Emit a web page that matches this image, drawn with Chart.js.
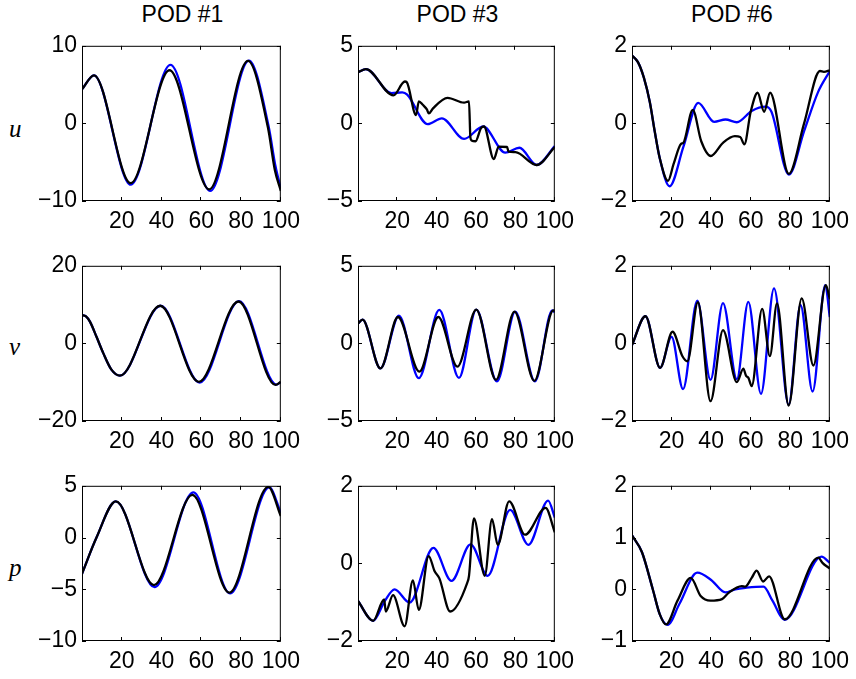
<!DOCTYPE html>
<html>
<head>
<meta charset="utf-8">
<script src="https://cdn.jsdelivr.net/npm/chart.js@4.4.0/dist/chart.umd.min.js"></script>
<style>
  body { margin: 0; background: #fff; width: 856px; height: 679px; position: relative; overflow: hidden; }
  canvas { position: absolute; }
  .title { position: absolute; font: 23px "Liberation Sans", Arial, sans-serif; text-align: center; line-height: 1; color: #000; }
  .var { position: absolute; font: italic 25px "Liberation Serif", "Times New Roman", serif; line-height: 1; color: #000; }
</style>
</head>
<body>
<script>
// Column titles and row variables
const podTitles = ['POD #1', 'POD #3', 'POD #6'];
const rowVars = ['u', 'v', 'p'];
const xTicks = [20, 40, 60, 80, 100];

// y tick labels, per panel (row u, v, p; column POD #1, #3, #6)
const uTicks1 = [-10, 0, 10], uTicks3 = [-5, 0, 5], uTicks6 = [-2, 0, 2];
const vTicks1 = [-20, 0, 20], vTicks3 = [-5, 0, 5], vTicks6 = [-2, 0, 2];
const pTicks1 = [-10, -5, 0, 5], pTicks3 = [-2, 0, 2], pTicks6 = [-1, 0, 1, 2];

// u, POD #1
const u1BlueX = [0, 6, 24.5, 44.5, 64.5, 84, 93.8, 97.3, 100];
const u1BlueY = [4.4, 6.2, -7.9, 7.55, -8.7, 8.1, -0.3, -5.5, -8.4];
const u1BlackX = [0, 6, 24.5, 44, 64, 83.5, 93.5, 97, 100];
const u1BlackY = [4.4, 6.2, -7.7, 6.85, -8.5, 8.05, -0.5, -6, -8.7];

// u, POD #3
const u3BlueX = [0, 4, 17, 22.5, 25, 35.4, 42.6, 53.9, 63.6, 74.8, 82, 90.8, 100];
const u3BlueY = [3.3, 3.5, 1.95, 2.0, 1.85, -0.05, 0.33, -1.0, -0.2, -1.88, -1.57, -2.68, -1.46];
const u3BlackX = [0, 4, 18, 23.8, 24.8, 29.5, 30.9, 32.9, 35, 36, 38, 45.5, 53.9, 56.4, 57.1, 57.7, 59.7, 62.5, 64, 69, 71.5, 75.7, 76.5, 80, 90.8, 100];
const u3BlackY = [3.3, 3.5, 1.8, 2.7, 2.65, 0.54, 1.42, 1.2, 0.9, 0.64, 0.95, 1.65, 1.34, 1.42, -0.9, -1.1, -1.15, -0.3, -0.2, -2.3, -1.5, -1.52, -1.82, -1.85, -2.68, -1.53];

// u, POD #6
const u6BlueX = [0, 3, 6, 9, 11.5, 14, 19, 26, 33.5, 41.5, 47.3, 53, 60.5, 67.5, 70.5, 79.3, 87, 94, 100];
const u6BlueY = [1.75, 1.58, 1.18, 0.55, -0.21, -0.89, -1.62, -0.6, 0.53, 0.04, 0.1, 0.03, 0.32, 0.43, 0.3, -1.32, -0.2, 0.8, 1.35];
const u6BlackX = [0, 3, 6, 9, 11.5, 14, 18.2, 21, 24.8, 26, 30.7, 35, 39.8, 46, 52, 54.7, 56.8, 60, 63.5, 66.8, 69.8, 79.3, 87, 95, 97, 100];
const u6BlackY = [1.75, 1.58, 1.18, 0.55, -0.21, -0.89, -1.48, -1.05, -0.53, -0.5, 0.35, -0.46, -0.84, -0.5, -0.33, -0.35, -0.54, 0.3, 0.79, 0.3, 0.79, -1.3, 0.0, 1.35, 1.33, 1.37];

// v, POD #1
const v1BlueX = [0, 2, 4, 7.3, 10.7, 14.8, 19.1, 39.5, 59.2, 79, 97.8, 100];
const v1BlueY = [7.3, 6.95, 5.6, 1.7, -2.5, -6.75, -8.3, 9.7, -10.1, 10.9, -10.6, -10.0];
const v1BlackX = [0, 2, 4, 7.3, 10.7, 14.8, 19.1, 39.3, 58.8, 78.7, 97.3, 100];
const v1BlackY = [7.3, 6.95, 5.6, 1.7, -2.5, -6.75, -8.3, 9.7, -9.9, 10.8, -10.7, -9.9];

// v, POD #3
const v3BlueX = [0, 2.3, 11.4, 20.8, 30.9, 41.3, 51.3, 60.1, 70.6, 79.9, 89.9, 98.7, 100];
const v3BlueY = [1.27, 1.53, -1.61, 1.78, -2.24, 2.16, -2.22, 2.18, -2.45, 2.05, -2.45, 2.12, 2.0];
const v3BlackX = [0, 2.3, 11.4, 20.3, 31.2, 40.8, 50.5, 60.1, 70.1, 79.5, 89.6, 99.2, 100];
const v3BlackY = [1.27, 1.53, -1.61, 1.7, -1.82, 1.7, -1.5, 2.18, -2.35, 2.05, -2.41, 2.12, 2.1];

// v, POD #6
const v6BlueX = [0, 6.8, 14.2, 20, 25.8, 33, 39.7, 46, 53, 58.8, 65.2, 71.8, 79.2, 85.2, 91.3, 97.7, 100];
const v6BlueY = [-0.04, 0.7, -0.63, 0.17, -1.18, 1.1, -0.94, 1.04, -0.92, 1.07, -1.3, 1.42, -1.58, 0.99, -1.24, 1.5, 0.68];
const v6BlackX = [0, 6.8, 14.2, 20.5, 25.5, 28, 33.3, 39.7, 46, 53, 56.3, 57.7, 58.8, 60.5, 65.8, 69.7, 73.3, 79.2, 85.8, 91.7, 98, 100];
const v6BlackY = [-0.04, 0.7, -0.63, 0.3, -0.33, -0.46, 1.06, -1.49, 0.34, -1.0, -0.65, -0.84, -0.88, -1.1, 0.89, -0.33, 1.03, -1.6, 1.16, -0.57, 1.5, 1.14];

// p, POD #1
const p1BlueX = [0, 7.3, 17, 36.5, 56, 74.5, 94.2, 100];
const p1BlueY = [-3.5, 0, 3.49, -4.8, 4.37, -5.4, 4.84, 2.39];
const p1BlackX = [0, 7.3, 17, 36.2, 55.5, 74.1, 93.7, 100];
const p1BlackY = [-3.5, 0, 3.49, -4.6, 4.12, -5.33, 4.9, 2.07];

// p, POD #3
const p3BlueX = [0, 7.7, 13.6, 18.6, 26.2, 38.3, 47.5, 57.2, 65.9, 77.3, 86.6, 96.6, 100];
const p3BlueY = [-0.97, -1.48, -0.97, -0.67, -1.01, 0.4, -0.45, 0.49, -0.32, 1.38, 0.48, 1.62, 1.18];
const p3BlackX = [0, 7.7, 13.3, 14.1, 17.8, 23.7, 27.9, 30.9, 35.9, 39, 41.3, 46.8, 55.5, 56.4, 58.9, 64.4, 68.1, 71, 76.8, 84.9, 95.3, 100];
const p3BlackY = [-0.97, -1.48, -0.93, -1.24, -0.82, -1.62, -0.44, -1.2, 0.19, -0.21, -0.38, -1.24, -0.5, -0.32, 1.16, -0.32, 1.14, 0.48, 1.6, 0.74, 1.43, 0.8];

// p, POD #6
const p6BlueX = [0, 5, 10.5, 14, 18, 24, 33, 40, 47.2, 52.2, 58, 66.5, 71, 77.2, 95.8, 100];
const p6BlueY = [1.04, 0.72, 0.0, -0.48, -0.69, -0.28, 0.32, 0.18, -0.06, 0, 0.03, 0.05, -0.22, -0.59, 0.63, 0.51];
const p6BlackX = [0, 5, 10.5, 14, 17.2, 23, 29.7, 34.7, 39.7, 45.5, 48.8, 55.5, 57.2, 60.5, 63, 66.3, 69.3, 77.2, 94.2, 96.3, 100];
const p6BlackY = [1.04, 0.72, 0.0, -0.48, -0.68, -0.22, 0.22, -0.13, -0.22, -0.19, -0.07, 0.06, 0.05, 0.22, 0.36, 0.15, 0.25, -0.58, 0.61, 0.51, 0.4];

// panel grid geometry (plot area in page pixels)
const colLeft = [82, 358, 632];
const colWidth = [201, 199, 200];
const rowTop = [43, 263, 483];
const rowHeight = 158;

const panels = [
  [uTicks1, u1BlueX, u1BlueY, u1BlackX, u1BlackY],
  [uTicks3, u3BlueX, u3BlueY, u3BlackX, u3BlackY],
  [uTicks6, u6BlueX, u6BlueY, u6BlackX, u6BlackY],
  [vTicks1, v1BlueX, v1BlueY, v1BlackX, v1BlackY],
  [vTicks3, v3BlueX, v3BlueY, v3BlackX, v3BlackY],
  [vTicks6, v6BlueX, v6BlueY, v6BlackX, v6BlackY],
  [pTicks1, p1BlueX, p1BlueY, p1BlackX, p1BlackY],
  [pTicks3, p3BlueX, p3BlueY, p3BlackX, p3BlackY],
  [pTicks6, p6BlueX, p6BlueY, p6BlackX, p6BlackY]
];

const zip = (xs, ys) => xs.map((x, i) => ({ x, y: ys[i] }));
const fmt = v => (v < 0 ? '\u2212' + Math.abs(v) : String(v));
const tickFont = { family: '"Liberation Sans", Arial, sans-serif', size: 23 };

// full box with inward tick marks, MATLAB style
const boxPlugin = {
  id: 'matlabBox',
  afterDatasetsDraw(chart) {
    const { ctx, chartArea: a, scales: { x, y } } = chart;
    ctx.save();
    ctx.strokeStyle = '#000';
    ctx.lineWidth = 1;
    ctx.strokeRect(a.left + 0.5, a.top + 0.5, a.width - 1, a.height - 1);
    ctx.beginPath();
    x.ticks.forEach(t => {
      const px = Math.round(x.getPixelForValue(t.value)) - 0.5;
      ctx.moveTo(px, a.bottom); ctx.lineTo(px, a.bottom - 4);
      ctx.moveTo(px, a.top); ctx.lineTo(px, a.top + 4);
    });
    y.ticks.forEach(t => {
      const py = Math.round(y.getPixelForValue(t.value)) + 0.5;
      ctx.moveTo(a.left, py); ctx.lineTo(a.left + 4, py);
      ctx.moveTo(a.right, py); ctx.lineTo(a.right - 4, py);
    });
    ctx.stroke();
    ctx.restore();
  }
};

const PAD_L = 82, PAD_T = 16, PAD_R = 24, PAD_B = 34;

function makePanel(idx) {
  const row = Math.floor(idx / 3), col = idx % 3;
  const [yTicks, bx, by, kx, ky] = panels[idx];
  const canvas = document.createElement('canvas');
  const w = PAD_L + colWidth[col] + PAD_R;
  const h = PAD_T + rowHeight + PAD_B;
  canvas.width = w; canvas.height = h;
  canvas.style.left = (colLeft[col] - PAD_L) + 'px';
  canvas.style.top = (rowTop[row] - PAD_T) + 'px';
  canvas.style.width = w + 'px'; canvas.style.height = h + 'px';
  document.body.appendChild(canvas);

  new Chart(canvas.getContext('2d'), {
    type: 'line',
    data: {
      datasets: [
        { data: zip(kx, ky), borderColor: '#000000' },
        { data: zip(bx, by), borderColor: '#0000ff' }
      ]
    },
    options: {
      responsive: false,
      animation: false,
      layout: { padding: { top: PAD_T, right: PAD_R, left: 0, bottom: 0 } },
      plugins: { legend: { display: false }, tooltip: { enabled: false } },
      elements: {
        point: { radius: 0 },
        line: { borderWidth: 2.3, cubicInterpolationMode: 'monotone', fill: false }
      },
      scales: {
        x: {
          type: 'linear', min: 0, max: 100,
          grid: { display: false, drawTicks: false },
          border: { display: false },
          afterBuildTicks: s => { s.ticks = xTicks.map(v => ({ value: v })); },
          afterFit: s => { s.height = PAD_B; },
          ticks: { color: '#000', font: tickFont, padding: 7, autoSkip: false, maxRotation: 0, minRotation: 0, callback: fmt }
        },
        y: {
          type: 'linear', min: yTicks[0], max: yTicks[yTicks.length - 1],
          grid: { display: false, drawTicks: false },
          border: { display: false },
          afterBuildTicks: s => { s.ticks = yTicks.map(v => ({ value: v })); },
          afterFit: s => { s.width = PAD_L; },
          ticks: { color: '#000', font: tickFont, padding: 5, autoSkip: false, callback: fmt }
        }
      }
    },
    plugins: [boxPlugin]
  });
}

podTitles.forEach((t, c) => {
  const d = document.createElement('div');
  d.className = 'title';
  d.textContent = t;
  d.style.left = colLeft[c] + 'px';
  d.style.width = colWidth[c] + 'px';
  d.style.top = '3px';
  document.body.appendChild(d);
});

const varTops = [116, 334, 555];
rowVars.forEach((t, r) => {
  const d = document.createElement('div');
  d.className = 'var';
  d.textContent = t;
  d.style.left = '9px';
  d.style.top = varTops[r] + 'px';
  document.body.appendChild(d);
});

for (let i = 0; i < 9; i++) makePanel(i);
</script>
</body>
</html>
